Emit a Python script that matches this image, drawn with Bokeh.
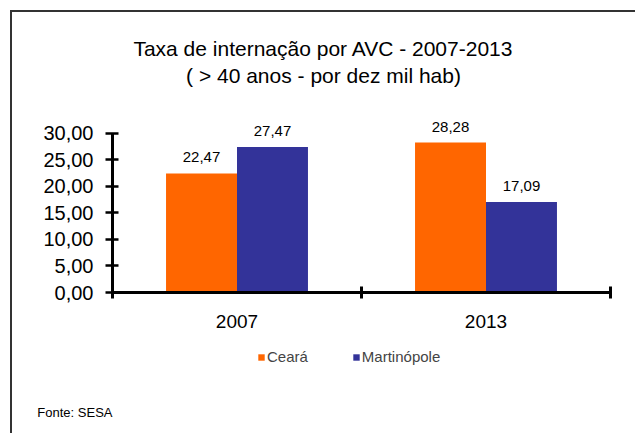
from bokeh.plotting import figure
from bokeh.layouts import column
from bokeh.models import (Range1d, FixedTicker, LabelSet, ColumnDataSource,
                          Legend, LegendItem, Label, LinearAxis)
from bokeh.core.properties import value
from bokeh.transform import dodge
from bokeh.embed import file_html
from bokeh.resources import INLINE

# ---- data ----
years = ["2007", "2013"]
series = ["Ceará", "Martinópole"]
ceara = [22.47, 28.28]
martinopole = [27.47, 17.09]
y_ticks = [0, 5, 10, 15, 20, 25, 30]
y_tick_labels = ["0,00", "5,00", "10,00", "15,00", "20,00", "25,00", "30,00"]
colors = ["#FF6600", "#333399"]
title_lines = ["Taxa de internação por AVC - 2007-2013", "( > 40 anos - por dez mil hab)"]
source_note = "Fonte: SESA"

FONT = "Liberation Sans"

def fmt(v):
    return f"{v:.2f}".replace(".", ",")

xpos = [i + 0.5 for i in range(len(years))]
src = ColumnDataSource(dict(
    x=xpos,
    ceara=ceara,
    mart=martinopole,
    ceara_lbl=[fmt(v) for v in ceara],
    mart_lbl=[fmt(v) for v in martinopole],
))

BAR_W = 0.285
OFF = BAR_W / 2
W = 623

# ---------------- main chart ----------------
p = figure(width=W, height=325,
           x_range=Range1d(0, len(years)), y_range=Range1d(0, 49.43),
           output_backend="svg", toolbar_location=None,
           min_border_left=100, min_border_right=25,
           min_border_top=18, min_border_bottom=45)
p.background_fill_color = "white"
p.border_fill_color = "white"
p.outline_line_color = None
p.grid.visible = False
p.title.visible = False

r1 = p.vbar(x=dodge("x", -OFF), top="ceara", width=BAR_W, source=src,
            fill_color=colors[0], line_color=None)
r2 = p.vbar(x=dodge("x", OFF), top="mart", width=BAR_W, source=src,
            fill_color=colors[1], line_color=None)

for ycol, tcol, off in [("ceara", "ceara_lbl", -OFF), ("mart", "mart_lbl", OFF)]:
    p.add_layout(LabelSet(x=dodge("x", off), y=ycol, text=tcol, source=src,
                          y_offset=11, text_align="center", text_baseline="bottom",
                          text_font=value(FONT), text_font_size="15px",
                          text_color="black"))

# x axis
xa = p.xaxis[0]
xa.ticker = FixedTicker(ticks=xpos, minor_ticks=list(range(len(years) + 1)))
xa.major_label_overrides = {x: y for x, y in zip(xpos, years)}
xa.major_tick_in = 0
xa.major_tick_out = 0
xa.minor_tick_in = 6
xa.minor_tick_out = 6
xa.minor_tick_line_width = 3
xa.minor_tick_line_color = "black"
xa.axis_line_width = 3
xa.axis_line_color = "black"
xa.major_label_standoff = 16
xa.major_label_text_font = FONT
xa.major_label_text_font_size = "19px"
xa.major_label_text_color = "black"
xa.bounds = (0, len(years))

# y axis
ya = p.yaxis[0]
ya.ticker = FixedTicker(ticks=y_ticks, minor_ticks=[])
ya.major_label_overrides = {t: l for t, l in zip(y_ticks, y_tick_labels)}
ya.bounds = (0, 30)
ya.axis_line_width = 3
ya.axis_line_color = "black"
ya.major_tick_in = 6
ya.major_tick_out = 7
ya.major_tick_line_width = 2.5
ya.major_tick_line_color = "black"
ya.major_label_standoff = 12
ya.major_label_text_font = FONT
ya.major_label_text_font_size = "20px"
ya.major_label_text_color = "black"

# title: two centred lines inside the (empty) upper part of the frame
for line, yy in zip(title_lines, [244, 217]):
    p.add_layout(Label(x=211, y=yy, x_units="screen", y_units="screen", text=line,
                       text_align="center", text_baseline="middle",
                       text_font=FONT, text_font_size="21px", text_color="black"))

# ---------------- legend + source strip ----------------
p2 = figure(width=W, height=96, x_range=Range1d(0, 1), y_range=Range1d(0, 1),
            x_axis_type=None, y_axis_type=None,
            output_backend="svg", toolbar_location=None,
            min_border=0, min_border_left=0, min_border_right=0,
            min_border_top=0, min_border_bottom=0)
p2.background_fill_color = "white"
p2.border_fill_color = "white"
p2.outline_line_color = None
p2.grid.visible = False
p2.title.visible = False

# hidden copies of the series, used only to draw the legend swatches
k1 = p2.vbar(x="x", top="ceara", width=BAR_W, source=src, fill_color=colors[0],
             line_color=None, visible=False)
k2 = p2.vbar(x="x", top="mart", width=BAR_W, source=src, fill_color=colors[1],
             line_color=None, visible=False)

legend = Legend(items=[LegendItem(label=series[0], renderers=[k1]),
                       LegendItem(label=series[1], renderers=[k2])],
                orientation="horizontal", location=(145, 68),
                glyph_width=8, glyph_height=8, label_standoff=2, spacing=44,
                label_text_font=FONT, label_text_font_size="15px",
                label_height=16, padding=0, margin=0,
                inactive_fill_alpha=0,
                border_line_color=None, background_fill_alpha=0)
p2.add_layout(legend, "center")

# source note drawn as the single label of an otherwise invisible left axis
note_axis = LinearAxis(ticker=FixedTicker(ticks=[0.22], minor_ticks=[]),
                       major_label_overrides={0.22: source_note},
                       axis_line_color=None, major_tick_line_color=None,
                       major_tick_in=0, major_tick_out=0, major_label_standoff=0,
                       major_label_text_font=FONT, major_label_text_font_size="13px",
                       major_label_text_color="black")
p2.add_layout(note_axis, "left")

layout = column(p, p2, spacing=0)
# outer chart-area border: only top and left edges are visible in the reference
layout.styles = {"margin-left": "10px", "margin-top": "10px",
                 "border-left": "2px solid #333333", "border-top": "2px solid #333333"}

open("out.html", "w").write(file_html(layout, INLINE))
